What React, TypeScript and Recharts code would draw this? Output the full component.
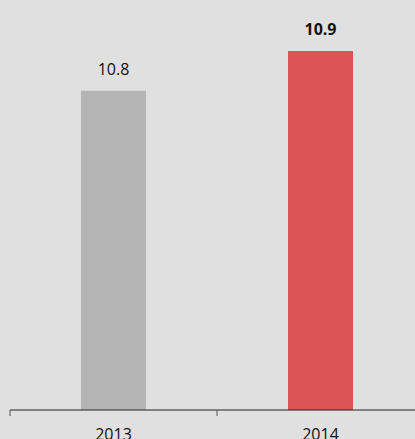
import { BarChart, Bar, XAxis, YAxis, Cell, LabelList } from "recharts";

const years = ["2013", "2014"];
const values = [10.8, 10.9];
const barColors = ["#b5b5b5", "#dc5454"];

const data = years.map((year, i) => ({ year, value: values[i] }));

const FONT = "'Open Sans', sans-serif";

function YearTick(props: any) {
  const { x, y, payload } = props;
  const off = payload?.offset ?? 0;
  // y is below the (hidden) tick line; axis line sits at y - tickSize - tickMargin
  const axisY = y - 8;
  return (
    <g>
      <line x1={x - off} x2={x - off} y1={axisY} y2={axisY + 6} stroke="#555" strokeWidth={1} />
      <text x={x} y={axisY + 30} textAnchor="middle" fontFamily={FONT} fontSize={16} fill="#111">
        {payload.value}
      </text>
    </g>
  );
}

function ValueLabel(props: any) {
  const { x, y, width, value, index } = props;
  return (
    <text
      x={x + width / 2}
      y={y - 16}
      textAnchor="middle"
      fontFamily={FONT}
      fontSize={16}
      fontWeight={index === 1 ? 700 : 400}
      fill="#111"
    >
      {value}
    </text>
  );
}

export default function App() {
  return (
    <div
      style={{
        position: "absolute",
        left: 0,
        top: 0,
        width: 415,
        height: 439,
        overflow: "hidden",
        background: "#e0e0e0",
      }}
    >
      <BarChart
        width={424}
        height={439}
        data={data}
        margin={{ top: 10, right: 0, bottom: 0, left: 10 }}
      >
        <XAxis
          dataKey="year"
          height={29}
          axisLine={{ stroke: "#222" }}
          tickLine={false}
          tickSize={0}
          tickMargin={8}
          tick={<YearTick />}
          interval={0}
        />
        <YAxis hide domain={[10, 11.0025]} />
        <Bar dataKey="value" barSize={65} isAnimationActive={false}>
          {data.map((d, i) => (
            <Cell key={d.year} fill={barColors[i]} />
          ))}
          <LabelList dataKey="value" content={<ValueLabel />} />
        </Bar>
      </BarChart>
    </div>
  );
}
